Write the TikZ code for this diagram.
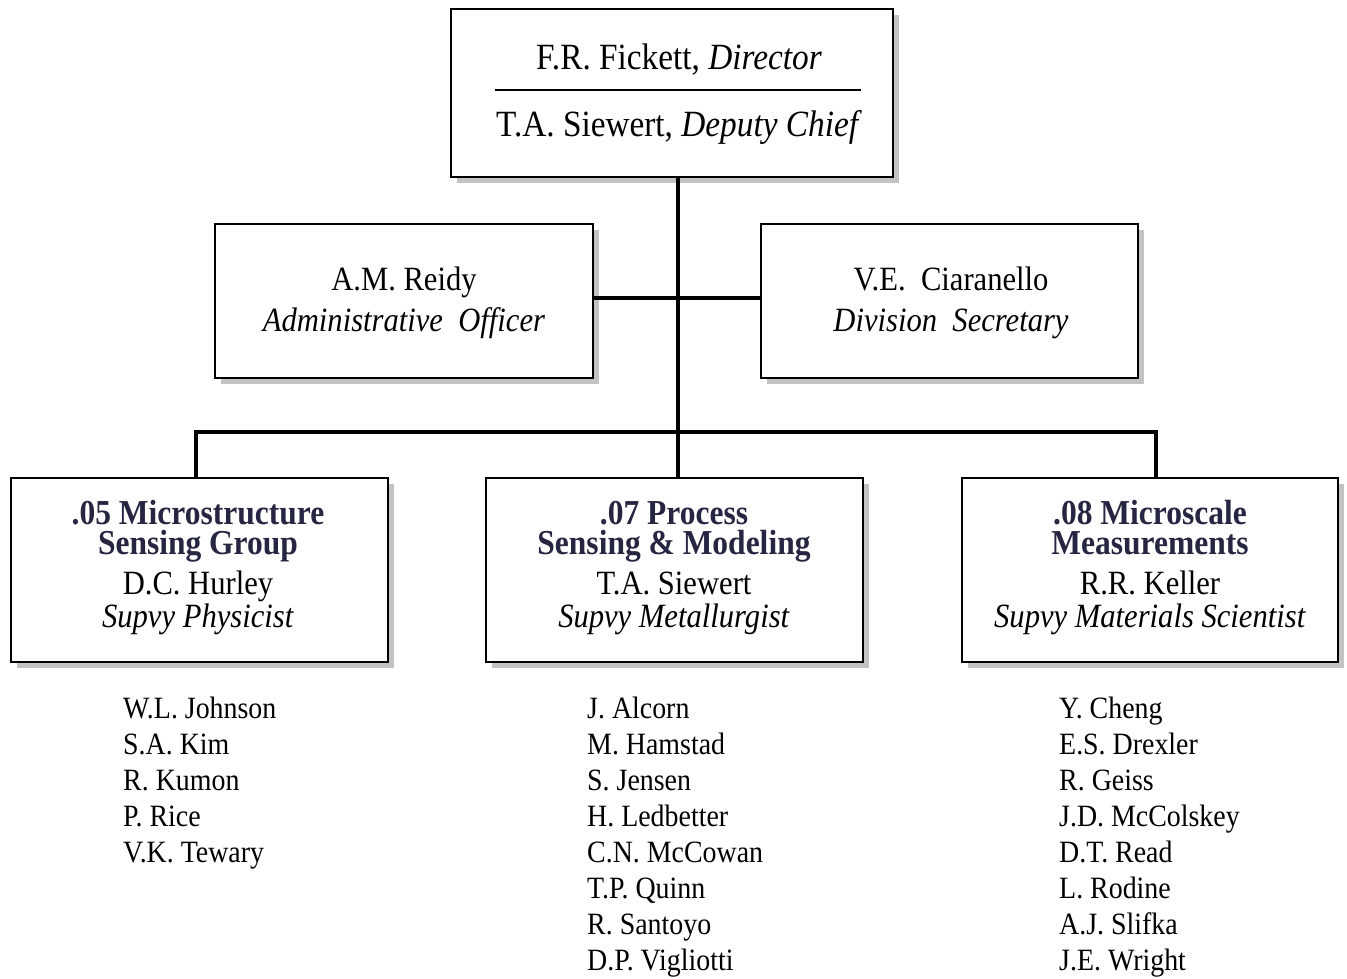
\documentclass[tikz,border=0pt]{standalone}
\usepackage{fontspec}
\setmainfont[FakeStretch=0.9]{Liberation Serif}
\usetikzlibrary{shadows}
\definecolor{navy}{RGB}{38,38,66}
\definecolor{shade}{RGB}{195,195,195}
\begin{document}
\begin{tikzpicture}[x=1pt,y=-1pt,
  box/.style={draw, line width=2.6pt, fill=white, inner sep=0pt,
    drop shadow={shadow xshift=6pt, shadow yshift=-6pt, fill=shade, opacity=1}},
  conn/.style={line width=3.6pt},
  big/.style={anchor=base, inner sep=0pt, font=\fontsize{37}{40}\selectfont},
  mid/.style={anchor=base, inner sep=0pt, font=\fontsize{34}{36}\selectfont},
  ttl/.style={anchor=base, inner sep=0pt, align=center, text=navy, font=\fontsize{35}{30}\selectfont\bfseries},
  lst/.style={anchor=base west, inner sep=0pt, font=\fontsize{31}{36}\selectfont}]
\useasboundingbox[fill=white] (0,0) rectangle (1347,979);

% boxes
\node[box, minimum width=442pt, minimum height=168pt] (top) at (672,93) {};
\node[box, minimum width=378pt, minimum height=154pt] (adm) at (404,301) {};
\node[box, minimum width=377pt, minimum height=154pt] (sec) at (949.5,301) {};
\node[box, minimum width=377pt, minimum height=184pt] (g5) at (199.5,570) {};
\node[box, minimum width=377pt, minimum height=184pt] (g7) at (674.5,570) {};
\node[box, minimum width=376pt, minimum height=184pt] (g8) at (1150,570) {};

% connectors
\coordinate (j1) at (678,298);
\coordinate (j2) at (678,432);
\draw[conn] (top.south -| j1) -- (g7.north -| j1);
\draw[conn] (adm.east |- j1) -- (sec.west |- j1);
\draw[conn, line join=miter] (g5.north -| 196,0) |- (j2) -| (g8.north -| 1156,0);

% top box text
\node[big] (t1) at (679,70) {F.R. Fickett, \textit{Director}};
\coordinate (s1) at (495,90);
\coordinate (s2) at (861,90);
\draw[line width=1.2pt] (s1) -- (s2);
\node[big] (t2) at (679,137) {T.A. Siewert, \textit{Deputy Chief}};

% admin / secretary
\node[mid] (a1) at (404,290) {A.M. Reidy};
\node[mid] (a2) at (404,331) {\textit{Administrative\ \ Officer}};
\node[mid] (c1) at (951,290) {V.E.\ \ Ciaranello};
\node[mid] (c2) at (951,331) {\textit{Division\ \ Secretary}};

% group boxes
\node[ttl] (g5a) at (198,554) {.05 Microstructure\\Sensing Group};
\node[mid] (g5c) at (198,594) {D.C. Hurley};
\node[mid] (g5d) at (198,627) {\textit{Supvy Physicist}};

\node[ttl] (g7a) at (674,554) {.07 Process\\Sensing \& Modeling};
\node[mid] (g7c) at (674,594) {T.A. Siewert};
\node[mid] (g7d) at (674,627) {\textit{Supvy Metallurgist}};

\node[ttl] (g8a) at (1150,554) {.08 Microscale\\Measurements};
\node[mid] (g8c) at (1150,594) {R.R. Keller};
\node[mid] (g8d) at (1150,627) {\textit{Supvy Materials Scientist}};

% member lists
\node[lst] (l1) at (123,718) {W.L. Johnson};
\node[lst] (l2) at (123,754) {S.A. Kim};
\node[lst] (l3) at (123,790) {R.\ Kumon};
\node[lst] (l4) at (123,826) {P. Rice};
\node[lst] (l5) at (123,862) {V.K. Tewary};

\node[lst] (m1) at (587,718) {J. Alcorn};
\node[lst] (m2) at (587,754) {M.\ Hamstad};
\node[lst] (m3) at (587,790) {S.\ Jensen};
\node[lst] (m4) at (587,826) {H.\ Ledbetter};
\node[lst] (m5) at (587,862) {C.N.\ McCowan};
\node[lst] (m6) at (587,898) {T.P. Quinn};
\node[lst] (m7) at (587,934) {R.\ Santoyo};
\node[lst] (m8) at (587,970) {D.P. Vigliotti};

\node[lst] (r1) at (1059,718) {Y. Cheng};
\node[lst] (r2) at (1059,754) {E.S.\ Drexler};
\node[lst] (r3) at (1059,790) {R.\ Geiss};
\node[lst] (r4) at (1059,826) {J.D.\ McColskey};
\node[lst] (r5) at (1059,862) {D.T.\ Read};
\node[lst] (r6) at (1059,898) {L.\ Rodine};
\node[lst] (r7) at (1059,934) {A.J.\ Slifka};
\node[lst] (r8) at (1059,970) {J.E. Wright};
\end{tikzpicture}
\end{document}
